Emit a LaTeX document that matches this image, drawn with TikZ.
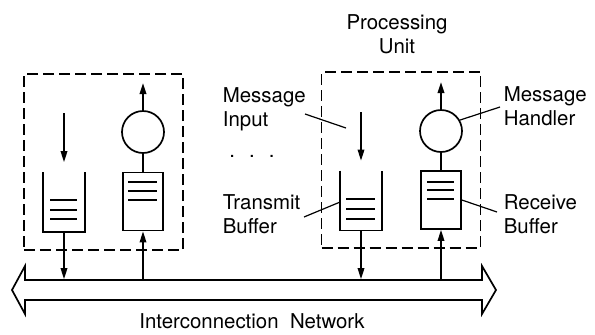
\documentclass[tikz,border=0pt]{standalone}
\usepackage{fontspec}
\setmainfont{TeX Gyre Heros}
\usetikzlibrary{arrows.meta}
\newcommand{\linew}{1.7bp}
\newcommand{\lblfont}{\fontsize{20.5}{24}\selectfont}
\tikzset{
  buf/.style={minimum width=40bp, minimum height=58bp, inner sep=0pt},
  handler/.style={draw, circle, minimum size=42bp, inner sep=0pt},
  unitbox/.style={draw, dash pattern=on 11bp off 5bp, minimum width=159bp, minimum height=176bp, inner sep=0pt},
  flow/.style={-{Triangle[length=11bp,width=6.5bp]}},
  lbl/.style={align=left, anchor=north west, inner sep=0pt, font=\lblfont},
}

\begin{document}
\begin{tikzpicture}[x=1bp, y=-1bp, line width=\linew]
\useasboundingbox (0,0) rectangle (595,334);
%left unit
\node[unitbox] (pu1) at (103.5,162) {};
\node[buf] (tb1) at (64,202) {};
\node[buf, draw] (rb1) at (143,201.5) {};
\node[handler] (mh1) at (143,132) {};
\coordinate (in1) at (64,113);
\coordinate (out1) at (143,83);
%right unit
\node[unitbox] (pu2) at (401,160) {};
\node[buf] (tb2) at (361,200.5) {};
\node[buf, draw] (rb2) at (441,200) {};
\node[handler] (mh2) at (441,131) {};
\coordinate (in2) at (361,112);
\coordinate (out2) at (441,82);
%network
\node[minimum width=457bp, minimum height=20bp, inner sep=0pt] (bus) at (253.5,290) {};
\draw[line join=miter] (25,280) -- (482,280) -- (482,266) -- (496,290) -- (482,314) -- (482,300)
  -- (25,300) -- (25,314) -- (12,290) -- (25,266) -- cycle;
%transmit buffers, open at the top
\draw (tb1.north west) -- (tb1.south west) -- (tb1.south east) -- (tb1.north east);
\draw (tb2.north west) -- (tb2.south west) -- (tb2.south east) -- (tb2.north east);
\draw (tb1.center) ++(-14,-2) -- ++(27,0);
\draw (tb1.center) ++(-14,8) -- ++(27,0);
\draw (tb1.center) ++(-14,17) -- ++(27,0);
\draw (tb2.center) ++(-15,-1.5) -- ++(29,0);
\draw (tb2.center) ++(-15,8.5) -- ++(29,0);
\draw (tb2.center) ++(-15,18.5) -- ++(29,0);
%receive buffers
\draw (rb1.center) ++(-15,-19.5) -- ++(29,0);
\draw (rb1.center) ++(-15,-10.5) -- ++(29,0);
\draw (rb1.center) ++(-15,-1.5) -- ++(29,0);
\draw (rb2.center) ++(-14,-18) -- ++(27,0);
\draw (rb2.center) ++(-14,-10) -- ++(27,0);
\draw (rb2.center) ++(-14,-1) -- ++(27,0);
%flows
\draw[flow] (in1) -- ([yshift=10bp]tb1.north);
\draw[flow] (in2) -- ([yshift=10bp]tb2.north);
\draw (rb1.north) -- (mh1.south);
\draw (rb2.north) -- (mh2.south);
\draw[flow] (mh1.north) -- (out1);
\draw[flow] (mh2.north) -- (out2);
\draw[flow] (tb1.south) -- (tb1.south |- bus.north);
\draw[flow] (tb2.south) -- (tb2.south |- bus.north);
\draw[flow] (rb1.south |- bus.north) -- (rb1.south);
\draw[flow] (rb2.south |- bus.north) -- (rb2.south);
%labels
\node[align=center, anchor=north, inner sep=0pt, font=\lblfont] (pulbl) at (397,14) {Processing\\Unit};
\node[lbl] (milbl) at (222,87) {Message\\Input};
\node[lbl] (tblbl) at (222,194) {Transmit\\Buffer};
\node[lbl] (mhlbl) at (503,86) {Message\\Handler};
\node[lbl] (rblbl) at (503,194) {Receive\\Buffer};
\node[inner sep=0pt, font=\lblfont] (netlbl) at (252,321) {Interconnection\ \ Network};
\node[inner sep=0pt, font=\lblfont] (dots) at (252,156) {.\hspace{14bp}.\hspace{14bp}.};
%leaders
\coordinate (mi-a) at (305,114);
\coordinate (mi-b) at (346,128);
\coordinate (tb-a) at (304,217);
\coordinate (mh-a) at (500,107);
\coordinate (rb-a) at (497,212);
\draw[line width=1.2bp] (mi-a) -- (mi-b);
\draw[line width=1.2bp] (tb-a) -- (tb2.west |- 0,202);
\draw[line width=1.2bp] (mh-a) -- (mh2.30);
\draw[line width=1.2bp] (rb-a) -- (rb2.east);
\end{tikzpicture}
\end{document}
